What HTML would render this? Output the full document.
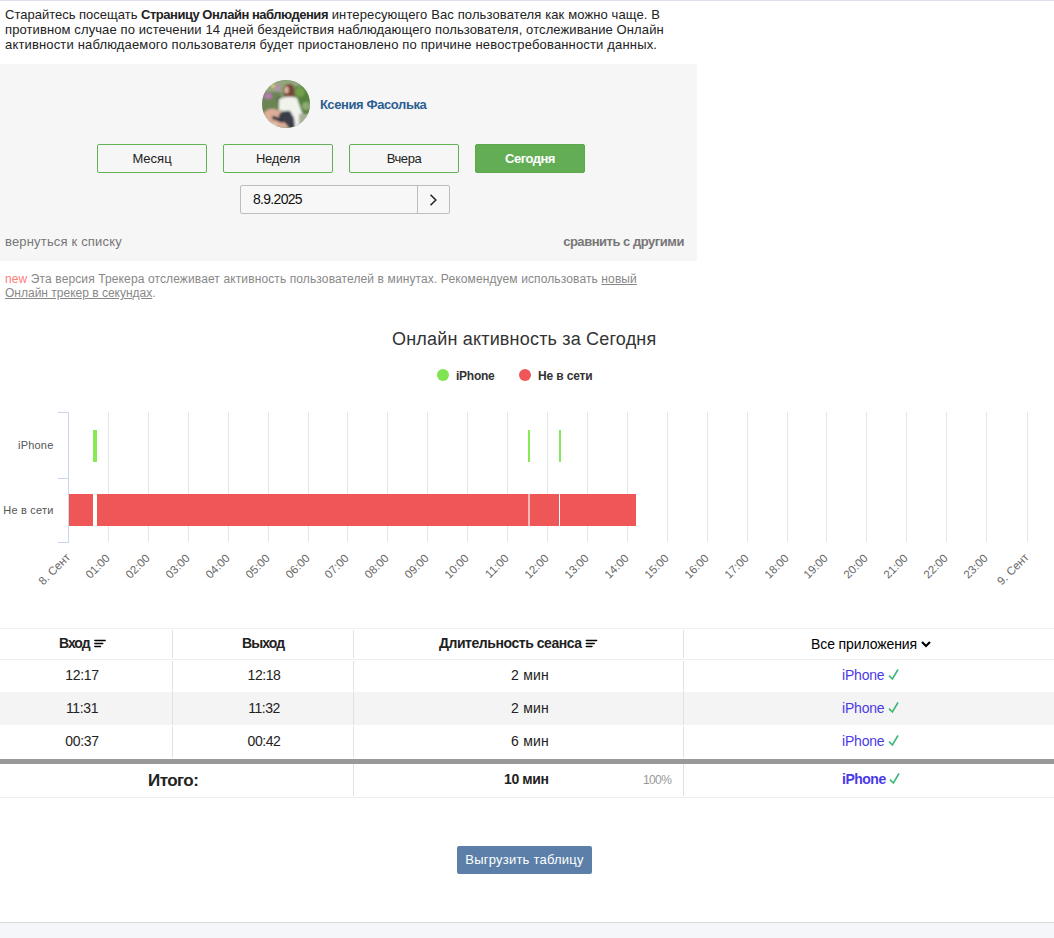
<!DOCTYPE html>
<html><head><meta charset="utf-8">
<style>
*{margin:0;padding:0;box-sizing:border-box}
html,body{width:1054px;height:938px;overflow:hidden;background:#fff;font-family:"Liberation Sans",sans-serif;color:#222}
.a{position:absolute;white-space:nowrap}
#topline{position:absolute;left:0;top:0;width:1054px;height:1px;background:#e3dce9}
.intro{left:5px;font-size:13px;line-height:15px;color:#222}
#panel{position:absolute;left:0;top:64px;width:697px;height:197px;background:#f6f6f6}
#name{left:320px;top:97px;letter-spacing:-0.4px;font-size:13px;line-height:16px;font-weight:bold;color:#2d5f91}
.btn{position:absolute;top:144px;width:110px;height:29px;border:1px solid #62b255;border-radius:2px;font-size:13px;line-height:27px;text-align:center;color:#222}
.btn.on{background:#63ae55;border-color:#5aa84b;color:#fff;font-weight:bold;letter-spacing:-0.5px}
#date{position:absolute;left:240px;top:185px;width:210px;height:29px;border:1px solid #bdbdbd;border-radius:2px;background:#f7f7f7}
#date .sep{position:absolute;left:176px;top:0;width:1px;height:27px;background:#bdbdbd}
#datetxt{left:253px;top:191px;font-size:14px;letter-spacing:-0.7px;line-height:16px;color:#111}
#back{left:5px;top:234px;font-size:13px;letter-spacing:0.176px;line-height:16px;color:#777}
#cmp{right:370px;top:234px;font-size:13px;letter-spacing:-0.47px;line-height:16px;color:#777;font-weight:bold}
.newl{left:5px;font-size:12px;line-height:14px;color:#888}
.newl u{text-decoration:underline;color:#888}
#title{left:392px;top:328px;font-size:18px;letter-spacing:0.185px;line-height:22px;color:#333}
.leg{top:369px;font-size:12px;line-height:15px;font-weight:bold;color:#333}
.th{top:635px;font-size:14px;line-height:16px;font-weight:bold;color:#222}
.td{font-size:14px;line-height:16px;color:#222}
.c{width:200px;text-align:center}
.ip{color:#4a3ae6}
.ck{color:#3dbb7a}
.vd{position:absolute;width:1px;background:#e2e2e2}
#dl{position:absolute;left:457px;top:846px;width:135px;height:28px;background:#5b7fa8;border-radius:2px;color:#fff;font-size:13px;line-height:27px;text-align:center;letter-spacing:0.23px}
#footer{position:absolute;left:0;top:922px;width:1054px;height:16px;background:#f5f6fa;border-top:1px solid #d8d9dd}
</style></head><body>
<div id="topline"></div>
<div class="a intro" style="top:7px;letter-spacing:0.12px"><span style="letter-spacing:0">Старайтесь посещать </span><b style="letter-spacing:-0.48px">Страницу Онлайн наблюдения</b> интересующего Вас пользователя как можно чаще. В</div>
<div class="a intro" style="top:22px;letter-spacing:0.105px">противном случае по истечении 14 дней бездействия наблюдающего пользователя, отслеживание Онлайн</div>
<div class="a intro" style="top:37px;letter-spacing:0.16px">активности наблюдаемого пользователя будет приостановлено по причине невостребованности данных.</div>

<div id="panel"></div>
<svg class="a" style="left:262px;top:80px" width="48" height="48" viewBox="0 0 48 48">
<defs><clipPath id="cc"><circle cx="24" cy="24" r="24"/></clipPath>
<filter id="bl" x="-20%" y="-20%" width="140%" height="140%"><feGaussianBlur stdDeviation="1"/></filter></defs>
<g clip-path="url(#cc)"><rect width="48" height="48" fill="#7c9468"/>
<g filter="url(#bl)">
<rect x="0" y="0" width="48" height="12" fill="#93a67e"/>
<rect x="0" y="12" width="18" height="22" fill="#6a8455"/>
<rect x="33" y="6" width="15" height="30" fill="#55823e"/>
<circle cx="38" cy="12" r="5" fill="#72a04c"/>
<circle cx="44" cy="26" r="4" fill="#8fa878"/>
<ellipse cx="6" cy="16" rx="4" ry="3" fill="#b77ab2"/>
<ellipse cx="15.5" cy="8" rx="2" ry="3.5" fill="#c28cba"/>
<ellipse cx="11" cy="6" rx="2" ry="2" fill="#d6d07a"/>
<ellipse cx="18" cy="20" rx="2.5" ry="3" fill="#2e3528"/>
<path d="M21 8 Q25 2 31 5 Q34 10 32 19 L24 20 Q21 14 21 8Z" fill="#764634"/>
<ellipse cx="24.5" cy="10" rx="2.2" ry="3.5" fill="#dcbaa6"/>
<path d="M17 19 Q26 15 35 18 L39 30 L43 40 L37 45 L35 48 L28 48 L24 32 L17 30 Z" fill="#f0f2ec"/>
<path d="M2 33 Q6 28 12 29 Q18 30 22 33 L27 40 L26 48 L14 48 L5 44 Q1 40 2 33Z" fill="#dcae9a"/>
<path d="M17 34 Q22 30 28 31 L32 38 L33 48 L27 48 Q24 42 17 40 Z" fill="#3a3d48"/>
<path d="M10 36 Q16 36 22 41 L20 43 Q14 40 10 39Z" fill="#33353c"/>
<rect x="37" y="34" width="11" height="14" fill="#a8b098"/>
<rect x="0" y="44" width="14" height="4" fill="#e8e4dc"/>
</g></g></svg>
<div class="a" id="name">Ксения Фасолька</div>
<div class="btn" style="left:97px">Месяц</div>
<div class="btn" style="left:223px;letter-spacing:-0.2px">Неделя</div>
<div class="btn" style="left:349px;letter-spacing:-0.4px">Вчера</div>
<div class="btn on" style="left:475px">Сегодня</div>
<div id="date"><div class="sep"></div></div>
<div class="a" id="datetxt">8.9.2025</div>
<svg class="a" style="left:427px;top:192px" width="14" height="16" viewBox="0 0 14 16"><path d="M3.5 2.8 L8.8 8 L3.5 13.2" fill="none" stroke="#2b2b2b" stroke-width="1.6"/></svg>
<div class="a" id="back">вернуться к списку</div>
<div class="a" id="cmp">сравнить с другими</div>

<div class="a newl" style="top:272px;letter-spacing:0.118px"><span style="color:#ff7b7b">new</span> Эта версия Трекера отслеживает активность пользователей в минутах. Рекомендуем использовать <u>новый</u></div>
<div class="a newl" style="top:286px"><u>Онлайн трекер в секундах</u>.</div>

<div class="a" id="title">Онлайн активность за Сегодня</div>
<svg class="a" style="left:437px;top:369px" width="12" height="12"><circle cx="6" cy="6" r="6" fill="#80e452"/></svg>
<div class="a leg" style="left:456px;letter-spacing:-0.25px">iPhone</div>
<svg class="a" style="left:519px;top:369px" width="12" height="12"><circle cx="6" cy="6" r="6" fill="#ef5658"/></svg>
<div class="a leg" style="left:538px;letter-spacing:-0.15px">Не в сети</div>

<svg class="a" style="left:0;top:400px" width="1054" height="200" viewBox="0 400 1054 200" font-family="Liberation Sans" font-size="11" fill="#666">
<g stroke="#e6e6e6" stroke-width="1">
<path d="M108.5 412V542M148.5 412V542M188.5 412V542M228.5 412V542M268.5 412V542M308.5 412V542M347.5 412V542M387.5 412V542M427.5 412V542M467.5 412V542M507.5 412V542M547.5 412V542M587.5 412V542M627.5 412V542M667.5 412V542M707.5 412V542M747.5 412V542M787.5 412V542M826.5 412V542M866.5 412V542M906.5 412V542M946.5 412V542M986.5 412V542M1027.5 412V542"/>
</g>
<g stroke="#ccd6eb" stroke-width="1" fill="none">
<path d="M68.5 412V543M58 412.5H68M58 478.5H68M58 542.5H68"/>
</g>
<g fill="#ef5658">
<rect x="69" y="494" width="24" height="32"/>
<rect x="97" y="494" width="431" height="32"/>
<rect x="530" y="494" width="29" height="32"/>
<rect x="560" y="494" width="76" height="32"/>
</g>
<rect x="528" y="494" width="2" height="32" fill="#f6b9ba"/>
<g fill="#86ea52">
<rect x="93" y="430" width="4" height="32"/>
<rect x="528" y="430" width="2" height="32"/>
<rect x="559" y="430" width="2" height="32"/>
</g>
<g fill="#555" font-size="11">
<text x="53.5" y="449" text-anchor="end" letter-spacing="0.2">iPhone</text>
<text x="53.5" y="514" text-anchor="end" letter-spacing="0.2">Не в сети</text>
</g>
<g text-anchor="end" font-size="11.5">
<text transform="translate(71 558) rotate(-45)">8. Сент</text>
<text transform="translate(110.5 559) rotate(-45)">01:00</text>
<text transform="translate(150.5 559) rotate(-45)">02:00</text>
<text transform="translate(190.5 559) rotate(-45)">03:00</text>
<text transform="translate(230.5 559) rotate(-45)">04:00</text>
<text transform="translate(270.5 559) rotate(-45)">05:00</text>
<text transform="translate(310.5 559) rotate(-45)">06:00</text>
<text transform="translate(349.5 559) rotate(-45)">07:00</text>
<text transform="translate(389.5 559) rotate(-45)">08:00</text>
<text transform="translate(429.5 559) rotate(-45)">09:00</text>
<text transform="translate(469.5 559) rotate(-45)">10:00</text>
<text transform="translate(509.5 559) rotate(-45)">11:00</text>
<text transform="translate(549.5 559) rotate(-45)">12:00</text>
<text transform="translate(589.5 559) rotate(-45)">13:00</text>
<text transform="translate(629.5 559) rotate(-45)">14:00</text>
<text transform="translate(669.5 559) rotate(-45)">15:00</text>
<text transform="translate(709.5 559) rotate(-45)">16:00</text>
<text transform="translate(749.5 559) rotate(-45)">17:00</text>
<text transform="translate(789.5 559) rotate(-45)">18:00</text>
<text transform="translate(828.5 559) rotate(-45)">19:00</text>
<text transform="translate(868.5 559) rotate(-45)">20:00</text>
<text transform="translate(908.5 559) rotate(-45)">21:00</text>
<text transform="translate(948.5 559) rotate(-45)">22:00</text>
<text transform="translate(988.5 559) rotate(-45)">23:00</text>
<text transform="translate(1029.5 558) rotate(-45)">9. Сент</text>
</g>
</svg>

<!-- table -->
<div class="a" style="left:0;top:628px;width:1054px;height:1px;background:#f1f1f1"></div>
<div class="a" style="left:0;top:659px;width:1054px;height:1px;background:#eeeeee"></div>
<div class="a" style="left:0;top:692px;width:1054px;height:33px;background:#f4f4f4"></div>
<div class="a" style="left:0;top:759px;width:1054px;height:5px;background:#999"></div>
<div class="a" style="left:0;top:797px;width:1054px;height:1px;background:#eeeeee"></div>
<div class="vd" style="left:172px;top:630px;height:28px"></div>
<div class="vd" style="left:353px;top:630px;height:28px"></div>
<div class="vd" style="left:683px;top:630px;height:28px"></div>
<div class="vd" style="left:172px;top:661px;height:31px"></div>
<div class="vd" style="left:353px;top:661px;height:31px"></div>
<div class="vd" style="left:683px;top:661px;height:31px"></div>
<div class="vd" style="left:172px;top:693px;height:32px"></div>
<div class="vd" style="left:353px;top:693px;height:32px"></div>
<div class="vd" style="left:683px;top:693px;height:32px"></div>
<div class="vd" style="left:172px;top:726px;height:32px"></div>
<div class="vd" style="left:353px;top:726px;height:32px"></div>
<div class="vd" style="left:683px;top:726px;height:32px"></div>
<div class="vd" style="left:353px;top:764px;height:32px"></div>
<div class="vd" style="left:683px;top:764px;height:32px"></div>

<div class="a th" style="left:59px;letter-spacing:-1px">Вход</div>
<svg class="a" style="left:93px;top:638px" width="14" height="11"><path d="M1.8 2.5H12.2M1.8 5.5H9.8M1.8 8.5H7.5" stroke="#000" stroke-width="1.3" stroke-linecap="round"/></svg>
<div class="a th" style="left:242px;letter-spacing:-0.9px">Выход</div>
<div class="a th" style="left:439px;letter-spacing:-0.45px">Длительность сеанса</div>
<svg class="a" style="left:585px;top:638px" width="14" height="11"><path d="M1.3 2.5H11.7M1.3 5.5H9.3M1.3 8.5H7" stroke="#000" stroke-width="1.3" stroke-linecap="round"/></svg>
<div class="a th" style="left:811px;top:636px;font-weight:normal;color:#000;letter-spacing:-0.1px">Все приложения</div>
<svg class="a" style="left:920px;top:639px" width="12" height="10"><path d="M2 3 L6 7 L10 3" fill="none" stroke="#000" stroke-width="2.2"/></svg>

<div class="a td c" style="left:-18px;top:667px;letter-spacing:-0.35px">12:17</div>
<div class="a td c" style="left:164px;top:667px;letter-spacing:-0.45px">12:18</div>
<div class="a td c" style="left:430px;top:667px;letter-spacing:0.2px">2 мин</div>
<div class="a td ip" style="left:842px;top:667px;letter-spacing:-0.2px">iPhone</div>
<div class="a td c" style="left:-18px;top:700px;letter-spacing:-0.35px">11:31</div>
<div class="a td c" style="left:164px;top:700px;letter-spacing:-0.45px">11:32</div>
<div class="a td c" style="left:430px;top:700px;letter-spacing:0.2px">2 мин</div>
<div class="a td ip" style="left:842px;top:700px;letter-spacing:-0.2px">iPhone</div>
<div class="a td c" style="left:-18px;top:733px;letter-spacing:-0.35px">00:37</div>
<div class="a td c" style="left:164px;top:733px;letter-spacing:-0.45px">00:42</div>
<div class="a td c" style="left:430px;top:733px;letter-spacing:0.2px">6 мин</div>
<div class="a td ip" style="left:842px;top:733px;letter-spacing:-0.2px">iPhone</div>

<div class="a" style="left:148px;top:772px;font-size:17px;line-height:18px;font-weight:bold;color:#222;letter-spacing:-0.56px">Итого:</div>
<div class="a td" style="left:504px;top:771px;font-weight:bold;letter-spacing:-0.4px">10 мин</div>
<div class="a" style="left:643px;top:773px;font-size:12px;line-height:14px;color:#999;letter-spacing:-0.63px">100%</div>
<div class="a td ip" style="left:842px;top:771px;font-weight:bold;letter-spacing:-0.5px">iPhone</div>

<svg class="a" style="left:887px;top:668.0px" width="13" height="13"><path d="M2 7.6 L5.4 11 L11 1.5" fill="none" stroke="#3cb878" stroke-width="1.6"/></svg>
<svg class="a" style="left:887px;top:701.0px" width="13" height="13"><path d="M2 7.6 L5.4 11 L11 1.5" fill="none" stroke="#3cb878" stroke-width="1.6"/></svg>
<svg class="a" style="left:887px;top:734.0px" width="13" height="13"><path d="M2 7.6 L5.4 11 L11 1.5" fill="none" stroke="#3cb878" stroke-width="1.6"/></svg>
<svg class="a" style="left:887.5px;top:772px" width="13" height="13"><path d="M2 7.6 L5.4 11 L11 1.5" fill="none" stroke="#3cb878" stroke-width="1.6"/></svg>
<div id="dl">Выгрузить таблицу</div>
<div id="footer"></div>
</body></html>
